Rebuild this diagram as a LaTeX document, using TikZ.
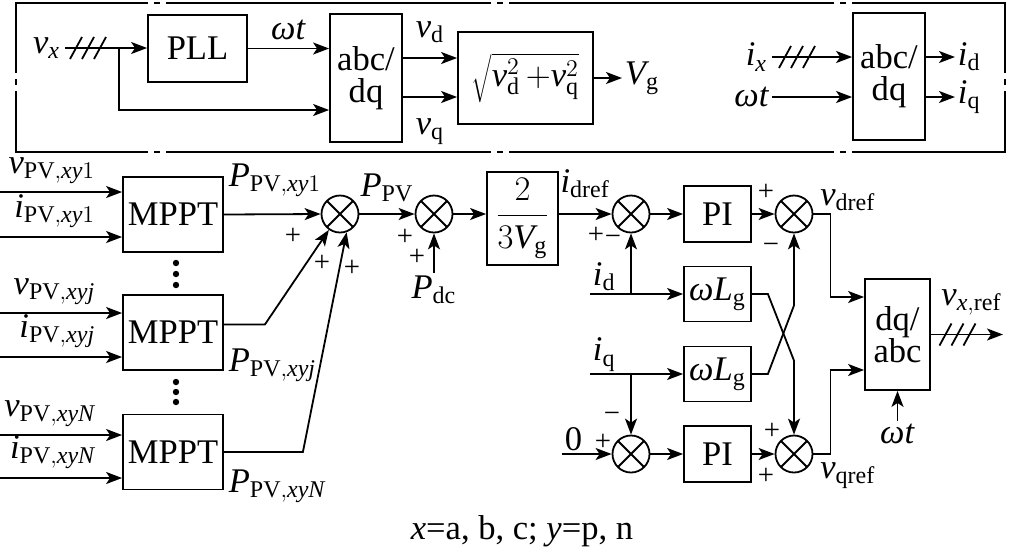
\documentclass[tikz,border=0pt]{standalone}
\usepackage{fontspec}
\setmainfont{Liberation Serif}
\usetikzlibrary{arrows.meta, positioning}

\tikzset{
  block/.style={draw, align=center, inner sep=0pt},
  sumnode/.style={draw, circle, minimum size=18.5pt, inner sep=0pt,
    path picture={\draw (path picture bounding box.north west) -- (path picture bounding box.south east)
      (path picture bounding box.north east) -- (path picture bounding box.south west);}},
  lbl/.style={inner sep=1pt},
  sgn/.style={inner sep=0pt, font=\Large},
  sig/.style={-{Stealth[length=8pt, width=6pt, inset=2pt]}},
  frame/.style={dash pattern=on 161.5pt off 4pt on 2pt off 4pt, line cap=rect},
}
\newcommand{\phasemark}[1]{\foreach \d in {-6pt,0pt,6pt} {\draw ([xshift=\d]#1) ++(-3pt,-5.5pt) -- ++(6pt,11pt);}}

\begin{document}
\begin{tikzpicture}[x=0.5pt, y=-0.5pt, line width=0.9pt,
    on grid, every node/.append style={font=\LARGE}]
    \useasboundingbox (0,0) rectangle (1012,553);

    % measuring part
    \draw[frame, dash phase=96pt] (16,3) -- (1005,3);
    \draw[frame, dash phase=96pt] (16,152) -- (1005,152);
    \draw[frame, dash phase=127pt] (16,3) -- (16,152);
    \draw[frame, dash phase=127pt] (1005,3) -- (1005,152);

    \node (pll) [block, minimum width=49.5pt, minimum height=33.5pt] at (197.5,48.5) {PLL};
    \node (abc1) [block, minimum width=36pt, minimum height=64pt] at (366,78) {abc/\\[-6pt]dq};
    \node (sq) [block, minimum width=67.5pt, minimum height=46pt, right=79.75pt of abc1]
        {$\sqrt{\mathit{v}_\mathrm{d}^2\,{+}\mathit{v}_\mathrm{q}^2}$};
    \node (abc2) [block, minimum width=36pt, minimum height=63.5pt] at (889,76.5) {abc/\\[-6pt]dq};

    \coordinate (vxin) at (65,48);
    \coordinate (vxsl) at (88,48);
    \coordinate (vxbr) at (119,48);
    \node (vx) [lbl, anchor=east, xshift=-1pt] at (vxin) {$\mathit{v}_\mathit{x}$};
    \draw[sig] (vxin) -- (vxin -| pll.west);
    \phasemark{vxsl}
    \draw[sig] (vxbr) |- ([yshift=-16pt]abc1.west);
    \draw[sig] (pll.east) -- (pll.east -| abc1.west)
        node (wt1) [midway, lbl, anchor=south, yshift=3pt] {\textit{ωt}};
    \draw[sig] ([yshift=10pt]abc1.east) -- ([yshift=10pt]abc1.east -| sq.west)
        node (vd) [midway, lbl, anchor=south, yshift=6pt] {$\mathit{v}_\mathrm{d}$};
    \draw[sig] ([yshift=-9.5pt]abc1.east) -- ([yshift=-9.5pt]abc1.east -| sq.west)
        node (vq) [midway, lbl, anchor=north, yshift=-9.5pt] {$\mathit{v}_\mathrm{q}$};
    \coordinate (vgend) at (622,78);
    \draw[sig] (sq.east) -- (vgend);
    \node (vg) [lbl, anchor=west] at (vgend) {$\mathit{V}_\mathrm{g}$};

    \coordinate (ixin) at (772,57);
    \coordinate (ixsl) at (797,57);
    \coordinate (wtin2) at (772,97);
    \node (ix) [lbl, anchor=east, xshift=-1pt] at (ixin) {$\mathit{i}_\mathit{x}$};
    \node (wt2) [lbl, anchor=east] at (wtin2) {\textit{ωt}};
    \draw[sig] (ixin) -- (ixin -| abc2.west);
    \phasemark{ixsl}
    \draw[sig] (wtin2) -- (wtin2 -| abc2.west);
    \coordinate (idend) at (955,57);
    \coordinate (iqend) at (955,97);
    \draw[sig] (abc2.east |- idend) -- (idend);
    \draw[sig] (abc2.east |- iqend) -- (iqend);
    \node (idout) [lbl, anchor=west] at (idend) {$\mathit{i}_\mathrm{d}$};
    \node (iqout) [lbl, anchor=west] at (iqend) {$\mathit{i}_\mathrm{q}$};

    % MPPT part
    \node (mppt1) [block, minimum width=50pt, minimum height=37.5pt] at (173,214.5) {MPPT};
    \node (mppt2) [block, minimum width=50pt, minimum height=37.5pt, below=59pt of mppt1] {MPPT};
    \node (mppt3) [block, minimum width=50pt, minimum height=37.5pt, below=59.75pt of mppt2] {MPPT};
    \foreach \k/\s/\a/\b in {1/1/11.25/-11.25, 2/\mathit{j}/9.75/-12.25, 3/\mathit{N}/8.5/-13} {
        \coordinate (vend\k) at ([yshift=\a pt]mppt\k.west);
        \coordinate (iend\k) at ([yshift=\b pt]mppt\k.west);
        \draw[sig] (vend\k -| 0,0) -- (vend\k);
        \draw[sig] (iend\k -| 0,0) -- (iend\k);
        \node (vl\k) [lbl, anchor=south east] at ([shift={(-12pt,2.5pt)}]vend\k) {$\mathit{v}_{\mathrm{PV},\mathit{xy}\s}$};
        \node (il\k) [lbl, anchor=south east] at ([shift={(-12pt,3pt)}]iend\k) {$\mathit{i}_{\mathrm{PV},\mathit{xy}\s}$};
    }
    \foreach \y in {263,274,285,382,392,402}
        \fill (176,\y) circle (1.6pt);

    \node (sum1) [sumnode] at (340,214) {};
    \node (sum2) [sumnode, right=47pt of sum1] {};
    \node (gain) [block, minimum width=35.5pt, minimum height=46.5pt, right=44.25pt of sum2, yshift=-2.25pt]
        {$\displaystyle\frac{2}{3\mathit{V}_\mathrm{g}}$};
    \node (sum3) [sumnode, right=54.25pt of gain, yshift=2.25pt] {};
    \node (pi1) [block, minimum width=33.5pt, minimum height=28pt, right=43.25pt of sum3] {PI};
    \node (sum4) [sumnode, right=38.25pt of pi1] {};
    \node (wl1) [block, minimum width=33.5pt, minimum height=27.5pt, below=40pt of pi1]
        {$\mbox{\textit{ω}}\mathit{L}_\mathrm{g}$};
    \node (wl2) [block, minimum width=33.5pt, minimum height=27.5pt, below=40pt of wl1]
        {$\mbox{\textit{ω}}\mathit{L}_\mathrm{g}$};
    \node (pi2) [block, minimum width=33.5pt, minimum height=28pt, below=40pt of wl2] {PI};
    \node (sum5) [sumnode, left=43.25pt of pi2] {};
    \node (sum6) [sumnode, right=38.25pt of pi2] {};
    \node (dqabc) [block, minimum width=32.5pt, minimum height=55.5pt] at (897.5,334.5) {dq/\\[-6pt]abc};

    \draw[sig] (mppt1.east) -- (sum1.west);
    \draw[sig] ([yshift=4pt]mppt2.east) -- ++(20.5pt,0) -- (sum1.235);
    \draw[sig] (mppt3.east) -- ++(39.5pt,0) -- (sum1.290);
    \node (pp1) [lbl, anchor=south west] at ([shift={(1pt,7.5pt)}]mppt1.east) {$\mathit{P}_{\mathrm{PV},\mathit{xy}1}$};
    \node (pp2) [lbl, anchor=west] at ([shift={(1pt,3pt)}]mppt2.south east) {$\mathit{P}_{\mathrm{PV},\mathit{xyj}}$};
    \node (pp3) [lbl, anchor=west] at ([shift={(1pt,2.25pt)}]mppt3.south east) {$\mathit{P}_{\mathrm{PV},\mathit{xyN}}$};

    \draw[sig] (sum1.east) -- (sum2.west)
        node (ppv) [midway, lbl, anchor=south, yshift=4.5pt] {$\mathit{P}_\mathrm{PV}$};
    \coordinate (pdcin) at ([yshift=-19.75pt]sum2.south);
    \draw[sig] (pdcin) -- (sum2.south);
    \node (pdc) [lbl, anchor=north] at (pdcin) {$\mathit{P}_\mathrm{dc}$};
    \draw[sig] (sum2.east) -- (sum2.east -| gain.west);
    \draw[sig] (gain.east |- sum3) -- (sum3.west)
        node (idref) [midway, lbl, anchor=south, yshift=6.5pt] {$\mathit{i}_\mathrm{dref}$};
    \draw[sig] (sum3.east) -- (sum3.east -| pi1.west);
    \draw[sig] (pi1.east |- sum4) -- (sum4.west);

    \coordinate (idin) at (590,0 |- wl1.west);
    \draw[sig] (idin) -- (wl1.west);
    \draw[sig] (idin -| sum3) -- (sum3.south);
    \node (idlbl) [lbl, anchor=south west] at (idin) {$\mathit{i}_\mathrm{d}$};
    \coordinate (iqin) at (590,0 |- wl2.west);
    \draw[sig] (iqin) -- (wl2.west);
    \draw[sig] (iqin -| sum5) -- (sum5.north);
    \node (iqlbl) [lbl, anchor=south west] at (iqin) {$\mathit{i}_\mathrm{q}$};
    \coordinate (zin) at (562,0 |- sum5);
    \draw[sig] (zin) -- (sum5.west);
    \node (zero) [lbl, anchor=south west] at (zin) {0};
    \draw[sig] (sum5.east) -- (sum5.east -| pi2.west);
    \draw[sig] (pi2.east |- sum6) -- (sum6.west);

    \draw[sig] (wl1.east) -- ++(8pt,0) -- ([yshift=37pt]sum6.north) -- (sum6.north);
    \draw[sig] (wl2.east) -- ++(8pt,0) -- ([yshift=-36pt]sum4.south) -- (sum4.south);

    \draw[sig] (sum4.east) -- ++(8.5pt,0) |- ([yshift=18.75pt]dqabc.west);
    \draw[sig] (sum6.east) -- ++(8.5pt,0) |- ([yshift=-17.75pt]dqabc.west);
    \node (vdref) [lbl, anchor=south west] at ([xshift=2pt]sum4.east) {$\mathit{v}_\mathrm{dref}$};
    \node (vqref) [lbl, anchor=north west] at ([shift={(2pt,-3pt)}]sum6.east) {$\mathit{v}_\mathrm{qref}$};
    \coordinate (vxref) at (1003,0 |- dqabc.east);
    \coordinate (vxrefsl) at (957.5,0 |- dqabc.east);
    \draw[sig] (dqabc.east) -- (vxref);
    \phasemark{vxrefsl}
    \node (vxreflbl) [lbl, anchor=south] at ([shift={(7pt,8pt)}]vxrefsl) {$\mathit{v}_{\mathit{x},\mathrm{ref}}$};
    \coordinate (wtin3) at ([yshift=-15pt]dqabc.south);
    \draw[sig] (wtin3) -- (dqabc.south);
    \node (wt3) [lbl, anchor=north] at (wtin3) {\textit{ωt}};

    % signs
    \foreach \x/\y/\t [count=\n] in {293/236/+, 322/263/+, 352/268/+, 405/237/+, 417/257/+,
        596/235/+, 613/240/−, 766/192/+, 771/248/−, 612/417/−, 603/442/+, 772/431/+, 766/476/+}
        \node (sg\n) [sgn] at (\x,\y) {\t};

    \node (note) at (522,531) {\textit{x}=a, b, c; \textit{y}=p, n};
\end{tikzpicture}
\end{document}
